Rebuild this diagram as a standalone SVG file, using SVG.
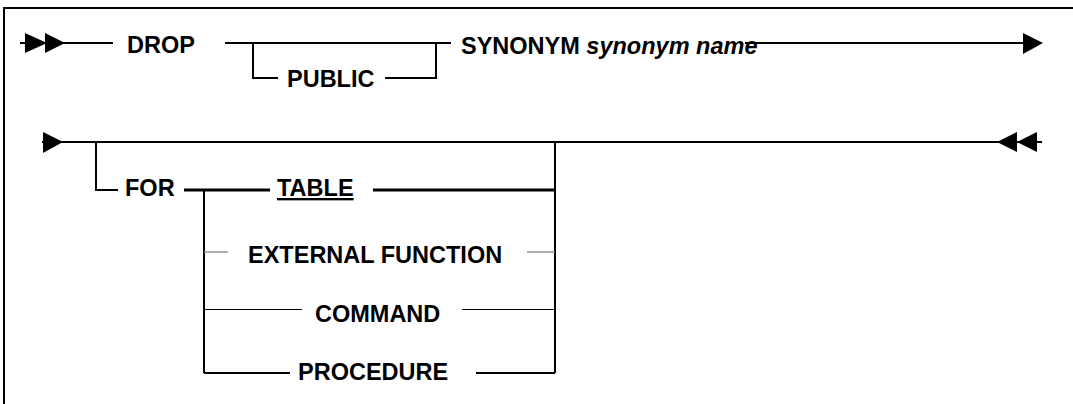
<svg xmlns="http://www.w3.org/2000/svg" width="1073" height="404" viewBox="0 0 1073 404">
<style>
.t{font-family:"Liberation Sans",Arial,sans-serif;font-weight:bold;font-size:23.5px;fill:#000}
.i{font-style:italic}
.ln{stroke:#000;stroke-width:2;fill:none}
.thick{stroke:#000;stroke-width:3;fill:none}
.thin{stroke:#000;stroke-width:1;fill:none}
.gray{stroke:#808080;stroke-width:1.3;fill:none}
.ah{fill:#000;stroke:none}
</style>
<rect width="1073" height="404" fill="#fff"/>
<g id="frame">
<path class="ln" d="M4,404 V8 H1073"/>
</g>
<g id="connectors">
<path class="ln" d="M20,43 H113"/>
<polygon class="ah" points="25,33 47,43 25,53"/>
<polygon class="ah" points="45,33 65,43 45,53"/>
<path class="ln" d="M225,43 H451"/>
<path class="ln" d="M253,43 V78 H278"/>
<path class="ln" d="M385,78 H436 V43"/>
<path class="ln" d="M745,43 H1025"/>
<polygon class="ah" points="1023,33 1043,43 1023,54"/>
<path class="ln" d="M42,142 H1042"/>
<polygon class="ah" points="43,132 63,142 43,153"/>
<polygon class="ah" points="997,142 1017,132 1017,152"/>
<polygon class="ah" points="1017,142 1037,132 1037,152"/>
<path class="ln" d="M96,142 V190 H118"/>
<path class="thick" d="M184,190 H270"/>
<path class="thick" d="M373,190 H555"/>
<path class="ln" d="M555,142 V373"/>
<path class="ln" d="M204,190 V373"/>
<path class="gray" d="M204,252 H228"/>
<path class="gray" d="M527,252 H555"/>
<path class="thin" d="M204,309.5 H302"/>
<path class="thin" d="M462,309.5 H555"/>
<path class="ln" d="M204,373 H290"/>
<path class="ln" d="M476,373 H555"/>
</g>
<g id="drop"><text class="t" x="127" y="53">DROP</text></g>
<g id="public"><text class="t" x="287" y="87">PUBLIC</text></g>
<g id="synonym"><text class="t" x="461" y="54">SYNONYM <tspan class="i">synonym name</tspan></text></g>
<g id="for"><text class="t" x="125" y="196">FOR</text></g>
<g id="table"><text class="t" x="277" y="196" text-decoration="underline">TABLE</text></g>
<g id="external-function"><text class="t" x="248" y="263">EXTERNAL FUNCTION</text></g>
<g id="command"><text class="t" x="315" y="322">COMMAND</text></g>
<g id="procedure"><text class="t" x="298" y="380">PROCEDURE</text></g>
</svg>
